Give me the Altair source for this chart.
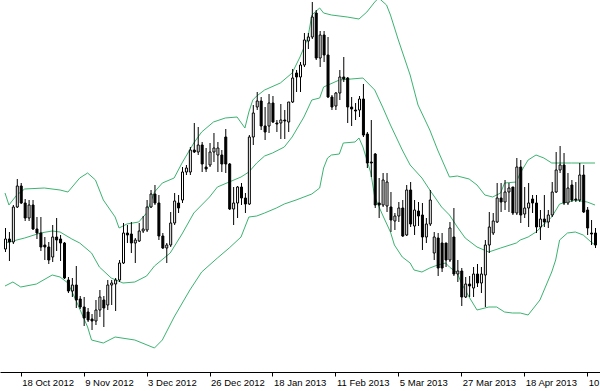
import json
import altair as alt
import pandas as pd

# ---- candle data (price units, one value per trading day) ----
open_ = [151,161,158,193,214,197,182,195,171,167,155,153,143,163,161,157,120,109,115,101,
         93,88,81,79,90,100,95,115,116,120,137,167,166,157,159,169,170,193,206,197,
         164,152,155,177,197,200,228,228,250,248,255,233,235,248,245,245,263,236,191,197,
         213,202,196,263,293,299,274,274,297,277,277,280,278,298,327,323,335,359,363,387,
         342,365,345,303,294,307,323,322,293,290,290,301,266,238,246,197,195,194,193,179,
         184,192,165,210,174,189,185,163,176,147,162,157,157,140,163,126,129,103,116,112,
         126,117,125,155,167,178,202,198,208,213,187,233,186,192,201,197,173,181,178,185,
         208,230,235,197,215,201,200,225,190,167,167]
high = [172,168,195,221,217,201,200,200,183,183,163,158,175,182,165,158,123,122,134,104,
        103,92,86,100,110,104,120,120,122,140,177,175,178,162,177,184,200,210,215,205,
        167,157,188,207,205,233,235,253,277,273,258,252,257,267,258,250,271,237,213,214,
        217,207,265,295,308,303,293,306,304,280,296,290,298,331,330,338,367,367,398,390,
        369,369,363,305,308,330,343,323,303,297,304,316,268,280,247,222,227,227,208,187,
        198,200,215,218,200,198,197,182,210,168,167,167,157,178,192,140,132,123,124,133,
        136,133,160,188,187,217,217,220,217,213,242,240,213,217,205,205,190,205,190,218,
        248,254,247,227,220,218,237,235,193,180,172]
low = [148,139,156,192,196,179,179,170,161,149,140,136,138,149,139,121,107,103,92,91,
       74,78,70,75,83,73,90,95,89,118,136,157,147,137,158,167,168,192,195,160,
       151,137,153,175,187,197,225,225,247,245,228,228,233,238,228,228,227,190,175,182,
       195,187,195,255,290,270,260,267,277,268,261,261,268,297,308,308,333,351,361,340,
       333,338,302,290,290,300,318,277,274,280,283,263,232,223,192,182,193,188,168,170,
       178,163,164,173,165,174,150,157,174,140,124,128,133,138,124,118,94,102,103,103,
       113,107,93,147,165,177,188,190,188,185,185,177,182,173,187,167,160,173,172,183,
       207,227,195,195,198,198,198,187,165,155,152]
close = [161,158,193,214,197,182,195,171,167,153,153,140,163,160,157,122,109,115,100,93,
         82,80,79,90,103,92,115,117,120,137,167,165,157,160,169,171,193,206,197,164,
         152,155,177,199,192,228,232,250,248,255,236,231,248,252,252,236,236,191,197,213,
         202,196,263,287,299,274,268,297,278,276,280,279,298,322,323,335,360,363,383,342,
         365,345,303,293,307,323,321,293,291,289,301,265,237,237,195,195,220,218,180,184,
         192,164,210,176,190,184,163,176,200,163,132,132,140,172,126,129,103,116,114,126,
         117,126,155,173,179,202,198,208,212,187,233,185,192,197,197,173,181,178,185,208,
         230,235,197,212,200,200,225,188,172,166,155]

# ---- Bollinger band readings (bar index, price) ----
upper_bar = [0,1,3,5,10,14,16,19,21,23,25,28,29,31,34,36,38,40,43,45,48,50,53,56,59,61,62,63,64,66,
             70,73,75,77,78,80,81,83,87,90,92,94,95,97,98,100,103,105,108,110,113,115,118,120,122,124,
             126,127,130,131,133,135,137,139,144,150]
upper_val = [207,195,205,211,212,210,208,222,227,220,200,183,172,176,178,187,208,217,222,237,257,268,278,282,283,272,288,300,304,310,
             317,327,343,362,385,392,387,385,383,381,388,398,402,395,385,360,325,295,270,250,223,224,221,215,205,203,
             207,217,218,227,240,245,242,237,237,237]
middle_bar = [0,5,9,12,14,17,19,22,24,27,30,33,36,38,42,45,48,52,54,57,60,62,64,66,68,71,73,76,78,80,
              81,85,88,91,94,96,98,101,103,106,108,111,113,115,117,120,123,126,130,131,133,135,139,141,145,148,150]
middle_val = [157,162,167,169,168,161,157,147,133,122,117,118,124,134,147,166,187,203,213,218,223,228,237,244,247,253,263,283,300,302,
              313,320,321,322,310,293,275,250,235,222,210,193,185,173,162,153,148,152,157,160,163,168,183,196,200,198,195]
lower_bar = [0,2,4,8,12,14,16,18,21,22,25,28,33,38,40,43,47,50,54,57,60,62,64,66,69,71,74,76,78,80,
             81,82,83,85,86,89,90,91,93,94,96,98,99,101,103,104,106,108,110,112,113,115,116,118,120,123,
             125,127,129,131,133,136,139,140,141,143,145,147,149,150]
lower_val = [114,118,113,116,125,123,117,100,73,60,57,63,60,52,60,83,110,128,142,152,163,183,184,187,192,196,200,203,206,212,
             232,242,245,246,257,258,262,253,227,203,185,168,155,143,137,130,128,132,135,137,133,127,117,103,90,93,
             93,88,87,87,85,100,128,140,160,167,168,165,158,155]

# ---- axis ticks ----
tick_bars = [4, 20, 36, 52, 68, 84, 100, 116, 132, 148]
tick_labels = ["18 Oct 2012", "9 Nov 2012", "3 Dec 2012", "26 Dec 2012", "18 Jan 2013",
               "11 Feb 2013", "5 Mar 2013", "27 Mar 2013", "18 Apr 2013", "10 May 2013"]

candles = pd.DataFrame({
    "bar": list(range(len(open_))),
    "open": open_, "high": high, "low": low, "close": close,
})
candles["dir"] = ["up" if c >= o else "down" for o, c in zip(open_, close)]

bands = pd.concat([
    pd.DataFrame({"bar": upper_bar, "value": upper_val, "band": "upper"}),
    pd.DataFrame({"bar": middle_bar, "value": middle_val, "band": "middle"}),
    pd.DataFrame({"bar": lower_bar, "value": lower_val, "band": "lower"}),
])

label_expr = f"{json.dumps(tick_labels)}[indexof({json.dumps(tick_bars)}, datum.value)]"

xscale = alt.Scale(domain=[0, 150], nice=False, zero=False)
yscale = alt.Scale(domain=[28, 400], nice=False, zero=False)

x_axis = alt.Axis(values=tick_bars, labelExpr=label_expr, grid=False, title=None,
                  domainColor="black", tickColor="black", tickSize=4, labelColor="black",
                  labelAlign="left", labelBaseline="top", labelPadding=1, labelOffset=1,
                  labelFlush=False, labelOverlap=False, labelFont="Liberation Sans",
                  labelFontSize=9.5)

X = alt.X("bar:Q", scale=xscale, axis=x_axis)

band_lines = alt.Chart(bands).mark_line(color="#3cb371", strokeWidth=1, clip=True).encode(
    x=X,
    y=alt.Y("value:Q", scale=yscale, axis=None),
    detail="band:N",
)

wicks = alt.Chart(candles).mark_rule(color="black", strokeWidth=1, clip=True, xOffset=0.5).encode(
    x=X,
    y=alt.Y("low:Q", scale=yscale, axis=None),
    y2="high:Q",
)

bodies = alt.Chart(candles).mark_bar(size=2, stroke="black", strokeWidth=1, clip=True, xOffset=0.5).encode(
    x=X,
    y=alt.Y("open:Q", scale=yscale, axis=None),
    y2="close:Q",
    fill=alt.Fill("dir:N", scale=alt.Scale(domain=["up", "down"], range=["white", "black"]), legend=None),
)

chart = alt.layer(band_lines, wicks, bodies).properties(
    width=600, height=372,
    autosize=alt.AutoSizeParams(type="none"),
    padding={"left": 0, "top": 0, "right": 0, "bottom": 19},
    background="white",
).configure_view(strokeWidth=0)

chart.save("out.html", embed_options={"renderer": "svg", "actions": False})
